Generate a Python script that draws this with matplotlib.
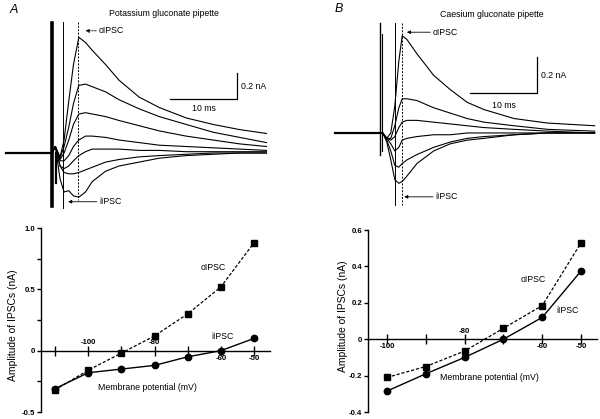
import matplotlib
matplotlib.use('Agg')
import matplotlib.pyplot as plt

# ---- 电流记录 (A: 钾葡萄糖酸盐电极) ----
# 时间 (ms, 刺激在 0), 电流 (nA, 相对基线)
tA = [0.5, 1.2, 1.8, 2.5, 3.2, 4.0, 5.0, 6.0, 8.0, 10.0, 13.0, 16.0, 20.0, 24.0, 28.0, 32.0]
tracesA = [
    [0.05, -0.03, 0.10, 0.40, 0.68, 0.89, 0.85, 0.79, 0.68, 0.56, 0.43, 0.35, 0.27, 0.22, 0.18, 0.15],
    [0.05, -0.04, 0.05, 0.20, 0.38, 0.52, 0.53, 0.51, 0.47, 0.41, 0.34, 0.28, 0.22, 0.16, 0.12, 0.08],
    [0.05, -0.05, 0.00, 0.10, 0.22, 0.30, 0.31, 0.30, 0.28, 0.25, 0.21, 0.17, 0.13, 0.10, 0.07, 0.05],
    [0.05, -0.06, -0.06, -0.02, 0.05, 0.10, 0.13, 0.13, 0.12, 0.10, 0.08, 0.06, 0.05, 0.04, 0.03, 0.02],
    [0.05, -0.10, -0.12, -0.10, -0.06, -0.02, 0.01, 0.03, 0.03, 0.03, 0.02, 0.02, 0.01, 0.01, 0.01, 0.01],
    [0.05, -0.10, -0.15, -0.16, -0.16, -0.15, -0.13, -0.11, -0.07, -0.05, -0.03, -0.02, -0.01, 0.0, 0.0, 0.0],
    [0.05, -0.20, -0.30, -0.29, -0.33, -0.34, -0.30, -0.22, -0.14, -0.10, -0.07, -0.04, -0.02, -0.01, 0.0, 0.0],
]

# ---- 电流记录 (B: 铯葡萄糖酸盐电极) ----
tB = [0.4, 1.0, 1.6, 2.2, 2.8, 3.3, 4.0, 5.5, 8.0, 10.5, 13.0, 15.5, 20.0, 25.0, 32.0]
tracesB = [
    [0.0, -0.03, 0.0, 0.15, 0.40, 0.54, 0.52, 0.44, 0.32, 0.24, 0.17, 0.13, 0.08, 0.055, 0.04],
    [0.0, -0.03, -0.03, 0.04, 0.14, 0.19, 0.19, 0.18, 0.14, 0.11, 0.08, 0.06, 0.04, 0.02, 0.01],
    [0.0, -0.03, -0.04, -0.02, 0.03, 0.06, 0.07, 0.07, 0.06, 0.05, 0.04, 0.03, 0.02, 0.01, 0.0],
    [0.0, -0.03, -0.06, -0.10, -0.08, -0.04, -0.03, -0.02, -0.01, -0.01, 0.0, 0.0, 0.0, 0.0, 0.0],
    [0.0, -0.04, -0.10, -0.18, -0.19, -0.17, -0.15, -0.12, -0.08, -0.05, -0.03, -0.02, -0.01, 0.0, 0.0],
    [0.0, -0.05, -0.15, -0.26, -0.28, -0.27, -0.24, -0.17, -0.10, -0.06, -0.04, -0.03, -0.01, 0.0, 0.0],
]

# ---- I-V 关系 ----
vA = [-110, -100, -90, -80, -70, -60, -50]
oA = [-0.32, -0.16, -0.02, 0.12, 0.30, 0.52, 0.88]
iA = [-0.31, -0.18, -0.15, -0.12, -0.05, 0.0, 0.10]

vB = [-100, -90, -80, -70, -60, -50]
oB = [-0.21, -0.15, -0.065, 0.06, 0.185, 0.53]
iB = [-0.285, -0.19, -0.10, 0.0, 0.12, 0.375]

plt.rcParams['font.family'] = ['Liberation Sans', 'DejaVu Sans']
FS = 6.3     # 普通文字
TFS = 5.6    # 刻度文字
LW = 0.8


def draw_traces(ax, t, traces, pre, stim, lines, oarrow, iarrow, sbar, title):
    # 刺激前基线
    ax.plot([pre, 0.0], [0, 0], color='k', lw=1.6)
    for y in traces:
        ax.plot([0.0] + t, [0.0] + y, color='k', lw=LW)
    # 刺激伪迹
    for x, y0, y1, w in stim:
        ax.plot([x, x], [y0, y1], color='k', lw=w)
    # 竖线 (实线 / 虚线)
    (xs, ys0, ys1), (xd, yd0, yd1) = lines
    ax.plot([xs, xs], [ys0, ys1], color='k', lw=0.7)
    ax.plot([xd, xd], [yd0, yd1], color='k', lw=0.7, dashes=(2, 1.5))
    # 箭头与标注
    x0, x1, y, ls = oarrow
    ax.annotate('', xy=(x0, y), xytext=(x1, y),
                arrowprops=dict(arrowstyle='-|>', lw=0.6, color='k', ls=ls,
                                mutation_scale=5, shrinkA=0, shrinkB=0))
    ax.text(x1 + 0.4, y, 'oIPSC', fontsize=FS, va='center', ha='left')
    x0, x1, y = iarrow
    ax.annotate('', xy=(x0, y), xytext=(x1, y),
                arrowprops=dict(arrowstyle='-|>', lw=0.6, color='k',
                                mutation_scale=5, shrinkA=0, shrinkB=0))
    ax.text(x1 + 0.4, y, 'iIPSC', fontsize=FS, va='center', ha='left')
    # 比例尺
    bx0, bx1, by0, by1 = sbar
    ax.plot([bx0, bx1, bx1], [by0, by0, by1], color='k', lw=0.9)
    ax.text(bx1 + 0.6, (by0 + by1) / 2, '0.2 nA', fontsize=FS, va='center', ha='left')
    ax.text((bx0 + bx1) / 2, by0 - 0.04, '10 ms', fontsize=FS, va='top', ha='center')
    ax.text(title[0], title[1], title[2], fontsize=FS, ha='center', va='center')
    ax.axis('off')


def draw_iv(ax, v, o, i, ylim, yticks, ylabels, minor, xlim, xlab_pos, lab_pos):
    ax.plot(v, o, color='k', lw=0.9, dashes=(2.5, 1.5), marker='s', ms=4.2,
            clip_on=False, zorder=3)
    ax.plot(v, i, color='k', lw=1.0, marker='o', ms=4.6, clip_on=False, zorder=3)
    ax.set_xlim(*xlim)
    ax.set_ylim(*ylim)
    for s in ['top', 'right']:
        ax.spines[s].set_visible(False)
    ax.spines['bottom'].set_position(('data', 0))
    ax.spines['left'].set_linewidth(1.0)
    ax.spines['bottom'].set_linewidth(1.0)
    ax.set_yticks(yticks)
    ax.set_yticklabels(ylabels, fontsize=TFS, fontweight='bold')
    ax.set_yticks(minor, minor=True)
    ax.tick_params(axis='y', which='both', direction='out', length=3, width=1.0, pad=1.2)
    ax.set_xticks(v)
    ax.set_xticklabels([])
    ax.tick_params(axis='x', direction='inout', length=7, width=1.0)
    for x, txt, up in xlab_pos:
        dy = 0.035 * (ylim[1] - ylim[0]) / 1.5
        ax.text(x, dy if up else -dy, txt, fontsize=TFS, fontweight='bold',
                ha='center', va='bottom' if up else 'top')
    (ox, oy), (ix, iy), (mx, my) = lab_pos
    ax.text(ox, oy, 'oIPSC', fontsize=FS, ha='center', va='center')
    ax.text(ix, iy, 'iIPSC', fontsize=FS, ha='center', va='center')
    ax.text(mx, my, 'Membrane potential (mV)', fontsize=FS, ha='center', va='center')


fig = plt.figure(figsize=(6.0, 4.19), dpi=100)
H = 419.0

# 上方记录面板
axA = fig.add_axes([0, 1 - 215 / H, 0.5, 215 / H])
axA.set_xlim(-7.76, 37.0)
axA.set_ylim(-0.477, 1.177)
draw_traces(axA, tA, tracesA, -6.9,
            stim=[(0.05, 1.0, -0.41, 2.6), (0.55, 0.0, -0.23, 1.6)],
            lines=((1.64, 1.01, -0.42), (3.95, 1.01, -0.36)),
            oarrow=(5.0, 6.6, 0.94, (0, (2, 1.5))),
            iarrow=(2.4, 6.7, -0.375),
            sbar=(17.6, 27.6, 0.415, 0.615),
            title=(16.7, 1.07, 'Potassium gluconate pipette'))
fig.text(10 / 600, 1 - 10 / H, 'A', fontsize=9, style='italic', ha='left', va='center')

axB = fig.add_axes([0.5, 1 - 215 / H, 0.5, 215 / H])
axB.set_xlim(-11.94, 32.8)
axB.set_ylim(-0.456, 0.739)
draw_traces(axB, tB, tracesB, -6.7,
            stim=[(0.0, 0.61, -0.12, 1.0), (0.3, 0.55, -0.10, 0.8)],
            lines=((2.16, 0.61, -0.40), (3.28, 0.61, -0.40)),
            oarrow=(4.0, 7.5, 0.56, '-'),
            iarrow=(3.6, 7.9, -0.355),
            sbar=(13.4, 23.4, 0.22, 0.42),
            title=(16.7, 0.66, 'Caesium gluconate pipette'))
fig.text(335 / 600, 1 - 9 / H, 'B', fontsize=9, style='italic', ha='left', va='center')

# 下方 I-V 图
ax1 = fig.add_axes([41 / 600, 7 / H, 229 / 600, 184 / H])
draw_iv(ax1, vA, oA, iA, (-0.5, 1.0), [-0.5, 0, 0.5, 1.0], ['-0.5', '0', '0.5', '1.0'],
        [-0.25, 0.25, 0.75], (-114.2, -45.2),
        [(-100, '-100', True), (-80, '-80', True), (-60, '-60', False), (-50, '-50', False)],
        ((-62.4, 0.68), (-59.4, 0.115), (-82.0, -0.30)))
fig.text(13 / 600, 1 - 325 / H, 'Amplitude of IPSCs (nA)', fontsize=7.4, rotation=90,
         ha='center', va='center')

ax2 = fig.add_axes([368 / 600, 7 / H, 229 / 600, 182 / H])
draw_iv(ax2, vB, oB, iB, (-0.4, 0.6), [-0.4, -0.2, 0, 0.2, 0.4, 0.6],
        ['-0.4', '-0.2', '0', '0.2', '0.4', '0.6'], [], (-104.9, -45.9),
        [(-100, '-100', False), (-80, '-80', True), (-60, '-60', False), (-50, '-50', False)],
        ((-62.4, 0.33), (-53.4, 0.16), (-73.5, -0.21)))
fig.text(343 / 600, 1 - 316 / H, 'Amplitude of IPSCs (nA)', fontsize=7.4, rotation=90,
         ha='center', va='center')

fig.savefig('out.png', dpi=100)
